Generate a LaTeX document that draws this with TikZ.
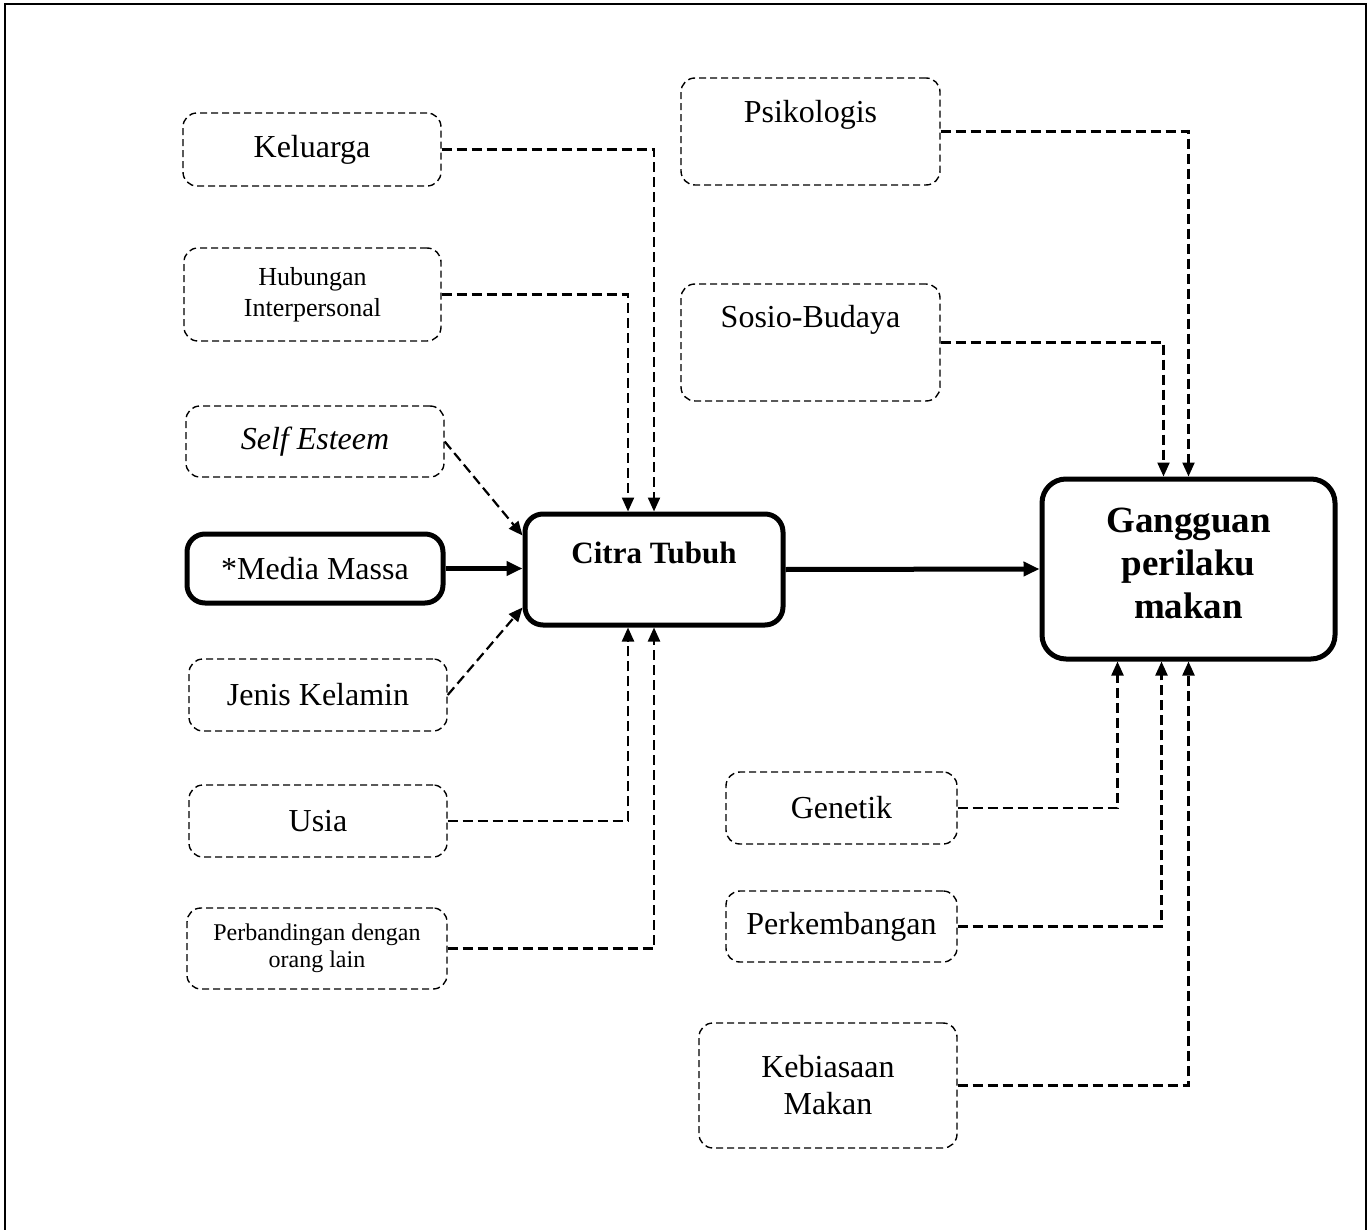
\documentclass[tikz,border=0pt]{standalone}
\usepackage{fontspec}
\setmainfont{Liberation Serif}
\usetikzlibrary{arrows.meta}
\begin{document}
\begin{tikzpicture}[x=0.5pt, y=-0.5pt, thick,
      faktor/.style = {draw, dash pattern=on 3.5pt off 2pt, line width=0.7pt, rounded corners=7pt, align=center, inner sep=0pt, font=\fontsize{16}{19}\selectfont},
      utama/.style = {draw, line width=2.5pt, rounded corners=9pt, align=center, inner sep=0pt},
      garis/.style = {dash pattern=on 5pt off 2.5pt, line width=1.1pt, -{Triangle[length=7pt,width=6pt]}},
      tebal/.style = {line width=2.5pt, -{Triangle[length=8pt,width=7pt]}}]
      \useasboundingbox (0,0) rectangle (1371,1230);
      \draw[line width=1.2pt] (5,1240) -- (5,4) -- (1366,4) -- (1366,1240);

      \node[faktor, minimum width=129pt, minimum height=36.5pt] (kel) at (312,149.5) {Keluarga};
      \node[faktor, minimum width=128.5pt, minimum height=46.5pt, font=\fontsize{13}{15.5}\selectfont] (hub) at (312.5,294.5) {Hubungan\\Interpersonal};
      \node[faktor, minimum width=129pt, minimum height=35.5pt] (self) at (315,441.5) {\textit{Self Esteem}};
      \node[utama, minimum width=128pt, minimum height=34.5pt, font=\fontsize{16}{19}\selectfont] (med) at (315,568.5) {*Media Massa};
      \node[faktor, minimum width=129pt, minimum height=36pt] (jen) at (318,695) {Jenis Kelamin};
      \node[faktor, minimum width=129pt, minimum height=36pt] (usia) at (318,821) {Usia};
      \node[faktor, minimum width=130pt, minimum height=40.5pt, font=\fontsize{12}{13.5}\selectfont] (perb) at (317,948.5) {Perbandingan dengan\\orang lain};

      \node[utama, minimum width=129pt, minimum height=55.5pt, font=\fontsize{15.5}{18}\selectfont\bfseries, text height=11pt, text depth=17.5pt] (cit) at (654,569.5) {Citra Tubuh};

      \node[faktor, minimum width=129.5pt, minimum height=53.5pt, text height=11pt, text depth=19.5pt] (psi) at (810.5,131.5) {Psikologis};
      \node[faktor, minimum width=129.5pt, minimum height=58.5pt, text height=11pt, text depth=25.5pt] (sos) at (810.5,342.5) {Sosio-Budaya};

      \node[utama, rounded corners=12pt, minimum width=146.5pt, minimum height=90pt, font=\fontsize{18.5}{21.5}\selectfont\bfseries] (gan) at (1188.5,569) {Gangguan\\perilaku\\makan\\[-16pt]};

      \node[faktor, minimum width=115.5pt, minimum height=36pt] (gen) at (841.5,808) {Genetik};
      \node[faktor, minimum width=115.5pt, minimum height=35.5pt] (perk) at (841.5,926.5) {Perkembangan};
      \node[faktor, minimum width=129pt, minimum height=62.5pt, font=\fontsize{16}{18.5}\selectfont] (keb) at (828,1085.5) {Kebiasaan\\Makan};

      \draw[garis] (kel.east) -| (cit.north);
      \draw[garis] (hub.east) -| ([xshift=-13pt]cit.north);
      \draw[garis] (self.east) -- ([yshift=-12pt]cit.north west);
      \draw[tebal] (med.east) -- (med.east -| cit.west);
      \draw[garis] (jen.east) -- ([yshift=10pt]cit.south west);
      \draw[garis] (usia.east) -| ([xshift=-13pt]cit.south);
      \draw[garis] (perb.east) -| (cit.south);

      \draw[tebal] (cit.east) -- (gan.west);

      \draw[garis] (psi.east) -| (gan.north);
      \draw[garis] (sos.east) -| ([xshift=-12.5pt]gan.north);
      \draw[garis] (gen.east) -| ([xshift=-35.5pt]gan.south);
      \draw[garis] (perk.east) -| ([xshift=-13.5pt]gan.south);
      \draw[garis] (keb.east) -| (gan.south);
\end{tikzpicture}
\end{document}
